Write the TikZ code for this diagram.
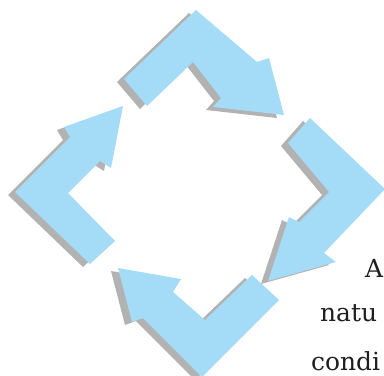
\documentclass[tikz,border=0pt]{standalone}
\usepackage{fontspec}
\setmainfont{DejaVu Serif}
\definecolor{arrowblue}{RGB}{164,219,246}
\definecolor{shadowgray}{RGB}{178,178,178}
\definecolor{textdark}{RGB}{30,30,30}
\begin{document}
\begin{tikzpicture}[x=1bp,y=-1bp,
  arrowbody/.style={fill=arrowblue, draw=none},
  arrowshadow/.style={fill=shadowgray, draw=none, shift={(-7,3)}},
  txt/.style={font=\fontsize{25}{30}\selectfont, text=textdark, inner sep=0pt, anchor=base west}]
\useasboundingbox (0,0) rectangle (384,376);
\clip (0,0) rectangle (384,376);
% top arrow
\fill[arrowshadow] (124,79) -- (196,10) -- (257,62) -- (269,58) -- (284,115) -- (213,107) -- (221,98) -- (193,62) -- (147,106) -- cycle;
\fill[arrowbody] (124,79) -- (196,10) -- (257,62) -- (269,58) -- (284,115) -- (213,107) -- (221,98) -- (193,62) -- (147,106) -- cycle;
% right arrow
\fill[arrowshadow] (310,118) -- (385,189) -- (324,253) -- (336,262) -- (268,281) -- (289,217) -- (299,222) -- (329,192) -- (288,143) -- cycle;
\fill[arrowbody] (310,118) -- (385,189) -- (324,253) -- (336,262) -- (268,281) -- (289,217) -- (299,222) -- (329,192) -- (288,143) -- cycle;
% bottom arrow
\fill[arrowshadow] (252,275) -- (279,300) -- (202,377) -- (143,318) -- (132,322) -- (118,268) -- (181,279) -- (173,292) -- (205,320) -- cycle;
\fill[arrowbody] (252,275) -- (279,300) -- (202,377) -- (143,318) -- (132,322) -- (118,268) -- (181,279) -- (173,292) -- (205,320) -- cycle;
% left arrow
\fill[arrowshadow] (115,241) -- (90,264) -- (15,192) -- (70,137) -- (64,127) -- (123,106) -- (111,168) -- (100,161) -- (68,193) -- cycle;
\fill[arrowbody] (115,241) -- (90,264) -- (15,192) -- (70,137) -- (64,127) -- (123,106) -- (111,168) -- (100,161) -- (68,193) -- cycle;
% text
\node[txt] (t1) at (365,277) {A};
\node[txt] (t2) at (320,321) {natu};
\node[txt] (t3) at (311,370) {condi};
\end{tikzpicture}
\end{document}
